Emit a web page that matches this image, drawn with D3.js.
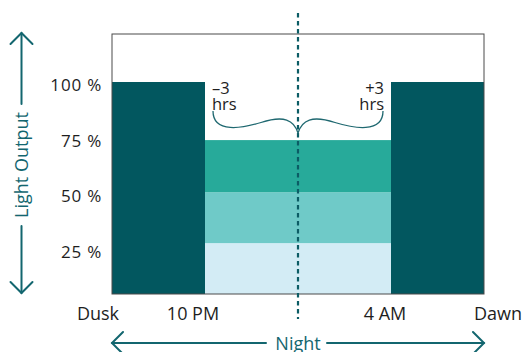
<!DOCTYPE html>
<html>
<head>
<meta charset="utf-8">
<script src="https://cdn.jsdelivr.net/npm/d3@7"></script>
<style>
  html, body { margin: 0; padding: 0; background: #fff; }
  svg { display: block; font-family: "Open Sans", "Noto Sans", sans-serif; }
</style>
</head>
<body>
<svg id="chart" width="525" height="352"></svg>
<script>
// Night-time dimming profile: hours counted from dusk, light output in percent.
const segments = [
  { start: 0, end: 3, from: 0, to: 100, tone: "full" },
  { start: 3, end: 9, from: 0, to: 24, tone: "low" },
  { start: 3, end: 9, from: 24, to: 48, tone: "mid" },
  { start: 3, end: 9, from: 48, to: 72.6, tone: "high" },
  { start: 9, end: 12, from: 0, to: 100, tone: "full" }
];
const timeLabels = ["Dusk", "10 PM", "4 AM", "Dawn"];
const timeHours = [0, 3, 9, 12];
const midNight = 6;
const levelTicks = [25, 50, 75, 100];
const offsetLabels = ["\u20133", "+3"];

const tones = { full: "#02575f", high: "#27aa9a", mid: "#6fcac8", low: "#d3ecf5" };
const accent = "#13666f";

const svg = d3.select("#chart");
const x = d3.scaleLinear().domain([0, 12]).range([112, 484]);
const y = d3.scaleLinear().domain([0, 100]).range([294, 82]);
// the percentage column is spaced evenly on its own scale
const yLabel = d3.scaleLinear().domain([0, 100]).range([308, 85]);
const frameTop = 34;

// plot frame
svg.append("rect")
  .attr("x", x(0)).attr("y", frameTop)
  .attr("width", x(12) - x(0)).attr("height", y(0) - frameTop)
  .attr("fill", "#fff");

svg.selectAll("rect.seg").data(segments).join("rect")
  .attr("class", "seg")
  .attr("x", d => x(d.start))
  .attr("width", d => x(d.end) - x(d.start))
  .attr("y", d => y(d.to))
  .attr("height", d => y(d.from) - y(d.to))
  .attr("fill", d => tones[d.tone]);

svg.append("rect")
  .attr("x", x(0)).attr("y", frameTop)
  .attr("width", x(12) - x(0)).attr("height", y(0) - frameTop)
  .attr("fill", "none").attr("stroke", "#4a4a4a").attr("stroke-width", 1);

// centre of the night
svg.append("line")
  .attr("x1", x(midNight)).attr("x2", x(midNight))
  .attr("y1", 13).attr("y2", 319)
  .attr("stroke", "#0b5c65").attr("stroke-width", 2.2)
  .attr("stroke-dasharray", "4.5,3.5");

// percentage labels
const yAxis = d3.axisLeft(yLabel).tickValues(levelTicks).tickSize(0).tickPadding(0)
  .tickFormat(d => d + " %");
const gy = svg.append("g").attr("transform", "translate(102,0)").call(yAxis);
gy.select(".domain").remove();
gy.selectAll("text").attr("font-size", 17).attr("fill", "#1e1e1e")
  .attr("letter-spacing", 0.8)
  .attr("font-family", "'Open Sans', sans-serif");

// time labels
const timeShift = [-14, -12, -6, 14];
svg.selectAll("text.time").data(timeLabels).join("text")
  .attr("class", "time")
  .attr("x", (d, i) => x(timeHours[i]) + timeShift[i])
  .attr("y", 320)
  .attr("text-anchor", "middle")
  .attr("font-size", 18).attr("fill", "#1e1e1e")
  .text(d => d);

// ±3 hrs annotations
const ann = svg.append("g").attr("font-size", 16.5).attr("fill", "#1e1e1e");
[[x(3) + 7, "start", offsetLabels[0]], [x(9) - 7, "end", offsetLabels[1]]].forEach(([px, anchor, t]) => {
  ann.append("text").attr("x", px).attr("y", 94).attr("text-anchor", anchor).text(t);
  ann.append("text").attr("x", px).attr("y", 110).attr("text-anchor", anchor).text("hrs");
});

// curly brace spanning the dimmed hours
const cx = x(midNight), lx = x(3) + 8, rx = x(9) - 8;
const brace = d3.path();
brace.moveTo(lx, 111);
brace.bezierCurveTo(lx, 134, lx + 30, 128, lx + 48, 122.5);
brace.bezierCurveTo(cx - 14, 115, cx - 4, 120, cx, 133);
brace.bezierCurveTo(cx + 4, 120, cx + 14, 115, rx - 48, 122.5);
brace.bezierCurveTo(rx - 30, 128, rx, 134, rx, 111);
svg.append("path").attr("d", brace.toString())
  .attr("fill", "none").attr("stroke", "#1f6870").attr("stroke-width", 1.3);

// vertical "Light Output" arrow
const ax = 21.5;
const va = svg.append("g").attr("stroke", accent).attr("stroke-width", 2).attr("fill", "none")
  .attr("stroke-linecap", "round");
va.append("line").attr("x1", ax).attr("x2", ax).attr("y1", 33).attr("y2", 104);
va.append("line").attr("x1", ax).attr("x2", ax).attr("y1", 226).attr("y2", 293);
va.append("path").attr("d", `M${ax - 11},44L${ax},33L${ax + 11},44`);
va.append("path").attr("d", `M${ax - 11},282L${ax},293L${ax + 11},282`);
svg.append("text")
  .attr("transform", `translate(${ax + 6.5},165) rotate(-90)`)
  .attr("text-anchor", "middle").attr("font-size", 18).attr("fill", accent)
  .text("Light Output");

// horizontal "Night" arrow
const ay = 343;
const ha = svg.append("g").attr("stroke", accent).attr("stroke-width", 2).attr("fill", "none")
  .attr("stroke-linecap", "round");
ha.append("line").attr("x1", x(0)).attr("x2", 266).attr("y1", ay).attr("y2", ay);
ha.append("line").attr("x1", 327).attr("x2", x(12)).attr("y1", ay).attr("y2", ay);
ha.append("path").attr("d", `M${x(0) + 11},${ay - 11}L${x(0)},${ay}L${x(0) + 11},${ay + 11}`);
ha.append("path").attr("d", `M${x(12) - 11},${ay - 11}L${x(12)},${ay}L${x(12) - 11},${ay + 11}`);
svg.append("text")
  .attr("x", x(midNight)).attr("y", ay + 6.5)
  .attr("text-anchor", "middle").attr("font-size", 18).attr("fill", accent)
  .text("Night");
</script>
</body>
</html>
